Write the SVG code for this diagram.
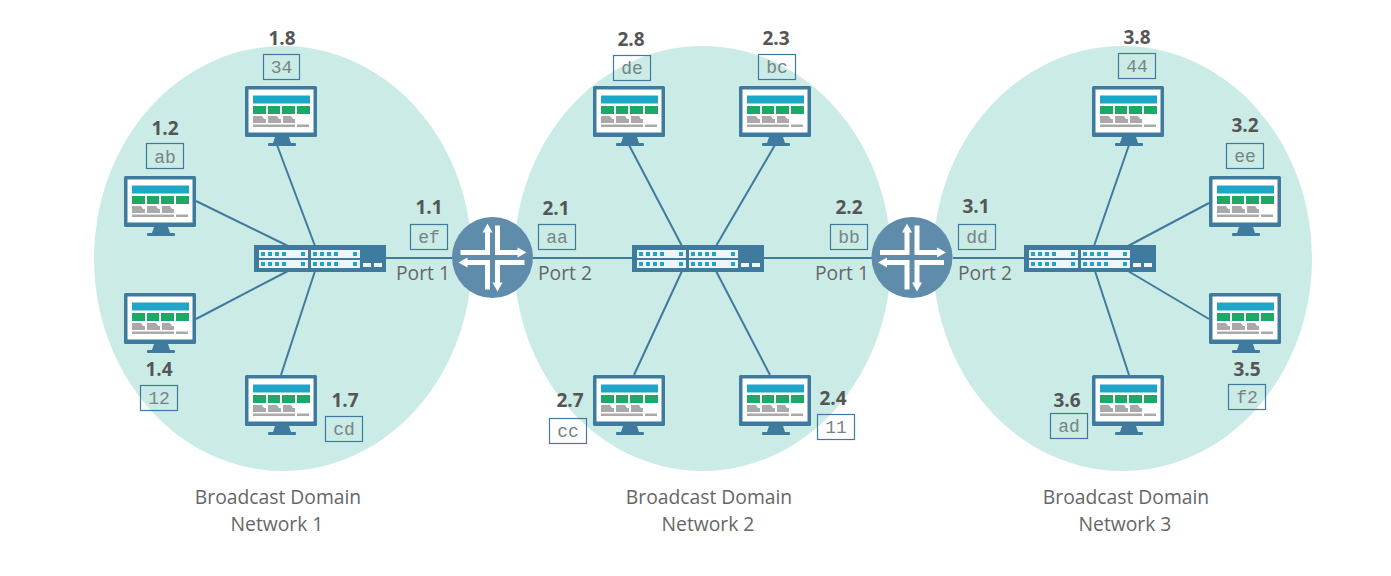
<svg xmlns="http://www.w3.org/2000/svg" width="1391" height="576" viewBox="0 0 1391 576">
<style>
.dom{fill:#cbebe6}
.ln{stroke:#3f7a9f;stroke-width:2;fill:none}
.ip{font:700 19px "Open Sans","Noto Sans",sans-serif;fill:#555;text-anchor:middle;transform:translateY(1px)}
.mac{font:18px "Liberation Mono",monospace;fill:#768583;text-anchor:middle;transform:translateY(1px)}
.box{fill:none;stroke:#3f7a9f;stroke-width:1.2}
.lbl{font:19.300px "Open Sans","Noto Sans",sans-serif;fill:#666;text-anchor:middle}
.wa{stroke:#fff;stroke-width:5;fill:none}
</style>
<defs>
<g id="mon">
<rect x="0" y="0" width="72" height="51" rx="1.5" fill="#3f7a9f"/>
<rect x="3.5" y="3.5" width="65" height="43" fill="#fff"/>
<path d="M30 51h14l2 6h-18z" fill="#3f7a9f"/>
<rect x="23" y="57" width="28" height="3" rx="1" fill="#3f7a9f"/>
<rect x="8" y="9.500" width="57" height="8" fill="#1ea6c9"/>
<g fill="#1da866"><rect x="8" y="20" width="13" height="8"/><rect x="23" y="20" width="12" height="8"/><rect x="37" y="20" width="13" height="8"/><rect x="52" y="20" width="13" height="8"/></g>
<g fill="#a9a9a9"><path d="M8 30h9l2 3 2 0v4h-13z"/><path d="M23 30h9l2 3 2 0v4h-13z"/><path d="M38 30h8l2 3 2 0v4h-12z"/><rect x="8" y="38.500" width="42" height="2.500"/><rect x="52" y="38.500" width="12" height="2.500"/></g>
</g>
<g id="sw">
<rect width="132" height="27" fill="#3f7a9f"/>
<g id="hp"><rect x="5" y="5" width="49" height="8" fill="#eef6f9"/><rect x="5" y="15" width="49" height="8" fill="#eef6f9"/>
<g fill="#1ea6c9"><rect x="7" y="7" width="4" height="4"/><rect x="14" y="7" width="4" height="4"/><rect x="21" y="7" width="4" height="4"/><rect x="28" y="7" width="4" height="4"/><rect x="47" y="7" width="4" height="4"/><rect x="7" y="17" width="4" height="4"/><rect x="14" y="17" width="4" height="4"/><rect x="21" y="17" width="4" height="4"/><rect x="28" y="17" width="4" height="4"/><rect x="47" y="17" width="4" height="4"/></g></g>
<use href="#hp" x="52"/>
<rect x="109" y="18" width="8" height="4" fill="#eef6f9"/><rect x="120" y="18" width="8" height="4" fill="#eef6f9"/>
</g>
<g id="rt">
<circle r="40.500" fill="#5f8cab"/>
<g class="wa">
<path d="M-32-5H-5V-26"/><path d="M5-32V-5H26"/><path d="M-26 5H-5V32"/><path d="M32 5H5V26"/>
</g>
<g fill="#fff"><path d="M-5-34l-5 9h10z"/><path d="M5 34l-5-9h10z"/><path d="M34-5l-9-5v10z"/><path d="M-34 5l9-5v10z"/></g>
</g>
</defs>
<rect width="1391" height="576" fill="#fff"/>
<g id="domains">
<ellipse class="dom" cx="283" cy="258.500" rx="189" ry="212.500"/>
<ellipse class="dom" cx="702.500" cy="258.500" rx="188.500" ry="212.500"/>
<ellipse class="dom" cx="1122.500" cy="258.500" rx="189.500" ry="212.500"/>
</g>
<g id="connectors" class="ln">
<path d="M277 145 315 246M196 201 288 246M196 319 288 271M315 271 281 375"/>
<path d="M386 258H452M533 258H632M764 258H872M953 258H1024"/>
<path d="M629 145 682 246M775 145 716 246M682 271 634 375M716 271 770 375"/>
<path d="M1129 145 1094 246M1209 203 1128 246M1209 319 1128 271M1095 271 1129 375"/>
</g>
<g id="sw1"><use href="#sw" x="254" y="245"/></g>
<g id="sw2"><use href="#sw" x="632" y="245"/></g>
<g id="sw3"><use href="#sw" x="1024" y="245"/></g>
<g id="r1"><use href="#rt" x="492.500" y="257.500"/></g>
<g id="r2"><use href="#rt" x="912" y="257.500"/></g>

<g id="h18"><use href="#mon" x="245" y="86"/><text class="ip" x="282" y="44">1.8</text><rect class="box" x="263.500" y="54.500" width="36" height="25"/><text class="mac" x="281.500" y="72">34</text></g>
<g id="h12"><use href="#mon" x="124" y="176"/><text class="ip" x="165" y="134">1.2</text><rect class="box" x="146.500" y="143.500" width="37" height="25"/><text class="mac" x="165" y="162">ab</text></g>
<g id="h14"><use href="#mon" x="124" y="293"/><text class="ip" x="159" y="375">1.4</text><rect class="box" x="140.500" y="385.500" width="37" height="25"/><text class="mac" x="159" y="403">12</text></g>
<g id="h17"><use href="#mon" x="245" y="375"/><text class="ip" x="345" y="406">1.7</text><rect class="box" x="325.500" y="416.500" width="37" height="25"/><text class="mac" x="344" y="434">cd</text></g>
<g id="h11"><text class="ip" x="429" y="213">1.1</text><rect class="box" x="410.500" y="224.500" width="37" height="25"/><text class="mac" x="429" y="242">ef</text><text class="lbl" x="423" y="280">Port 1</text></g>

<g id="h21"><text class="ip" x="556" y="214">2.1</text><rect class="box" x="538.500" y="224.500" width="37" height="25"/><text class="mac" x="557" y="242">aa</text><text class="lbl" x="565" y="280">Port 2</text></g>
<g id="h28"><use href="#mon" x="593" y="86"/><text class="ip" x="631" y="45">2.8</text><rect class="box" x="613.500" y="55.500" width="37" height="25"/><text class="mac" x="632" y="73">de</text></g>
<g id="h23"><use href="#mon" x="739" y="86"/><text class="ip" x="776" y="44">2.3</text><rect class="box" x="758.500" y="54.500" width="37" height="25"/><text class="mac" x="777" y="72">bc</text></g>
<g id="h27"><use href="#mon" x="593" y="375"/><text class="ip" x="570" y="406">2.7</text><rect class="box" x="549.500" y="418.500" width="37" height="25"/><text class="mac" x="568" y="436">cc</text></g>
<g id="h24"><use href="#mon" x="739" y="375"/><text class="ip" x="833" y="404">2.4</text><rect class="box" x="817.500" y="414.500" width="37" height="25"/><text class="mac" x="836" y="432">11</text></g>
<g id="h22"><text class="ip" x="849" y="213">2.2</text><rect class="box" x="830.500" y="224.500" width="37" height="25"/><text class="mac" x="849" y="242">bb</text><text class="lbl" x="842" y="280">Port 1</text></g>

<g id="h31"><text class="ip" x="976" y="212">3.1</text><rect class="box" x="958.500" y="224.500" width="37" height="25"/><text class="mac" x="977" y="242">dd</text><text class="lbl" x="985" y="280">Port 2</text></g>
<g id="h38"><use href="#mon" x="1092" y="86"/><text class="ip" x="1137" y="43">3.8</text><rect class="box" x="1118.500" y="53.500" width="37" height="25"/><text class="mac" x="1137" y="71">44</text></g>
<g id="h32"><use href="#mon" x="1209" y="176"/><text class="ip" x="1245" y="131">3.2</text><rect class="box" x="1226.500" y="143.500" width="37" height="25"/><text class="mac" x="1245" y="161">ee</text></g>
<g id="h35"><use href="#mon" x="1209" y="293"/><text class="ip" x="1247" y="375">3.5</text><rect class="box" x="1228.500" y="384.500" width="37" height="25"/><text class="mac" x="1247" y="402">f2</text></g>
<g id="h36"><use href="#mon" x="1092" y="375"/><text class="ip" x="1067" y="406">3.6</text><rect class="box" x="1050.500" y="413.500" width="37" height="25"/><text class="mac" x="1069" y="431">ad</text></g>

<g id="captions">
<text class="lbl" x="278" y="504">Broadcast Domain</text><text class="lbl" x="277" y="531">Network 1</text>
<text class="lbl" x="709" y="504">Broadcast Domain</text><text class="lbl" x="708" y="531">Network 2</text>
<text class="lbl" x="1126" y="504">Broadcast Domain</text><text class="lbl" x="1125" y="531">Network 3</text>
</g>
</svg>
